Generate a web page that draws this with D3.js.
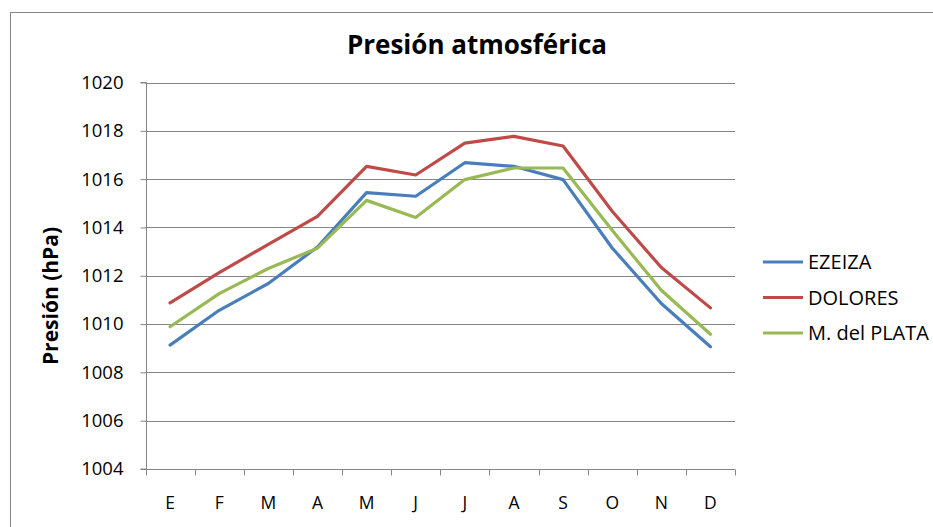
<!DOCTYPE html>
<html>
<head>
<meta charset="utf-8">
<script src="https://cdn.jsdelivr.net/npm/d3@7"></script>
<style>
  body { margin: 0; background: #fff; }
  text { font-family: "Open Sans", "Liberation Sans", sans-serif; fill: #000; }
</style>
</head>
<body>
<div id="chart"></div>
<script>
const months = ['E', 'F', 'M', 'A', 'M', 'J', 'J', 'A', 'S', 'O', 'N', 'D'];
const ezeiza = [1009.13, 1010.57, 1011.68, 1013.19, 1015.44, 1015.29, 1016.68, 1016.53, 1015.98, 1013.15, 1010.85, 1009.06];
const dolores = [1010.88, 1012.13, 1013.3, 1014.46, 1016.53, 1016.17, 1017.49, 1017.77, 1017.37, 1014.67, 1012.34, 1010.67];
const mdelplata = [1009.89, 1011.26, 1012.3, 1013.14, 1015.12, 1014.41, 1015.98, 1016.46, 1016.46, 1013.88, 1011.4, 1009.58];
const yTicks = [1004, 1006, 1008, 1010, 1012, 1014, 1016, 1018, 1020];

const series = [
  { name: 'EZEIZA', values: ezeiza, color: '#4a7ebb' },
  { name: 'DOLORES', values: dolores, color: '#be4b48' },
  { name: 'M. del PLATA', values: mdelplata, color: '#98b954' },
];

const width = 933;
const height = 527;
const plot = { left: 145.5, right: 735, top: 82.5, bottom: 469 };

const svg = d3.select('#chart').append('svg').attr('width', width).attr('height', height);

// chart area border (only left/top visible in the crop)
svg.append('rect')
  .attr('x', 10.5).attr('y', 12.5)
  .attr('width', 1000).attr('height', 600)
  .attr('fill', 'none').attr('stroke', '#868686');

const x = d3.scaleBand().domain(d3.range(months.length)).range([plot.left, plot.right]);
const y = d3.scaleLinear().domain([1004, 1020]).range([plot.bottom, plot.top]);

// gridlines
svg.append('g')
  .selectAll('line')
  .data(yTicks.slice(1))
  .enter()
  .append('line')
  .attr('x1', plot.left).attr('x2', plot.right)
  .attr('y1', (d) => Math.round(y(d)) + 0.5).attr('y2', (d) => Math.round(y(d)) + 0.5)
  .attr('stroke', '#868686');

// y axis
const yAxis = svg.append('g')
  .attr('transform', `translate(${Math.round(plot.left) + 0.5},0)`)
  .call(d3.axisLeft(y).tickValues(yTicks).tickSize(6).tickPadding(17).tickFormat(d3.format('d')));
yAxis.selectAll('.domain, line').attr('stroke', '#868686');
yAxis.selectAll('text').style('font-size', '18.5px').style('font-family', '"Open Sans", sans-serif');
yAxis.select('.domain').attr('d', `M-6,${plot.top}H0V${plot.bottom}H-6`);

// x axis
const xAxisG = svg.append('g').attr('transform', `translate(0,${Math.round(plot.bottom) + 0.5})`);
xAxisG.append('line')
  .attr('x1', plot.left).attr('x2', plot.right)
  .attr('stroke', '#868686');
xAxisG.selectAll('line.tick')
  .data(d3.range(months.length + 1))
  .enter()
  .append('line')
  .attr('class', 'tick')
  .attr('x1', (i) => Math.round(plot.left + i * x.step()) + 0.5)
  .attr('x2', (i) => Math.round(plot.left + i * x.step()) + 0.5)
  .attr('y1', 0).attr('y2', 6)
  .attr('stroke', '#868686');
xAxisG.selectAll('text')
  .data(months)
  .enter()
  .append('text')
  .attr('x', (d, i) => x(i) + x.bandwidth() / 2)
  .attr('y', 39)
  .attr('text-anchor', 'middle')
  .style('font-size', '17.5px')
  .text((d) => d);

// lines
const line = d3.line()
  .x((d, i) => x(i) + x.bandwidth() / 2)
  .y((d) => y(d));

svg.append('g')
  .selectAll('path')
  .data(series)
  .enter()
  .append('path')
  .attr('d', (d) => line(d.values))
  .attr('fill', 'none')
  .attr('stroke', (d) => d.color)
  .attr('stroke-width', 3.2)
  .attr('stroke-linejoin', 'round')
  .attr('stroke-linecap', 'round');

// title
svg.append('text')
  .attr('x', 477).attr('y', 54)
  .attr('text-anchor', 'middle')
  .style('font-size', '26px')
  .style('font-weight', 'bold')
  .text('Presión atmosférica');

// y label
svg.append('text')
  .attr('transform', 'translate(58,296) rotate(-90)')
  .attr('text-anchor', 'middle')
  .style('font-size', '21px')
  .style('font-weight', 'bold')
  .text('Presión (hPa)');

// legend
const legend = svg.append('g')
  .selectAll('g')
  .data(series)
  .enter()
  .append('g')
  .attr('transform', (d, i) => `translate(763,${262 + i * 35.5})`);
legend.append('line')
  .attr('x1', 0).attr('x2', 40)
  .attr('stroke', (d) => d.color)
  .attr('stroke-width', 3.2);
legend.append('text')
  .attr('x', 45).attr('y', 7)
  .style('font-size', '20px')
  .text((d) => d.name);
</script>
</body>
</html>
